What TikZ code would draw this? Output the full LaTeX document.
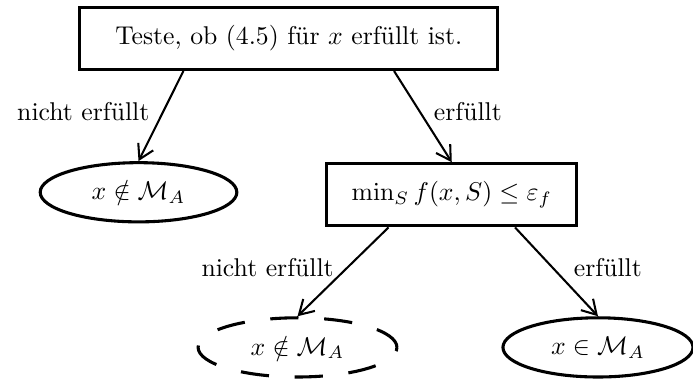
\documentclass[tikz,border=0pt]{standalone}
\usepackage{amsmath}
\usepackage{amssymb}
\usepackage{tikz}
\usetikzlibrary{
  arrows.meta,
  shapes.geometric,
  positioning,
  calc
}
\tikzset{
  testbox/.style={draw, very thick, minimum height=8.5mm, align=center},
  result/.style={draw, very thick, ellipse, minimum width=26.9mm, minimum height=8.1mm},
  open/.style={result, dash pattern=on 11pt off 10pt},
  branch/.style={-{Straight Barb[length=5.5pt, width=6.5pt]}, thick},
  tag/.style={inner sep=2pt}
}

\begin{document}
\begin{tikzpicture}
  \useasboundingbox (0,0) rectangle (9.48,5.21);
  \node[testbox, minimum width=57.2mm] (check) at (3.95,4.685) {Teste, ob (4.5) für $x$ erfüllt ist.};
  \node[result] (outA) at (1.895,2.58) {$x \notin \mathcal{M}_A$};
  \node[testbox, minimum width=34.2mm] (minf) at (6.18,2.545) {$\min_S f(x,S) \leq \varepsilon_f$};
  \node[open, minimum width=27.2mm] (maybeA) at (4.07,0.458) {$x \notin \mathcal{M}_A$};
  \node[result, minimum width=26mm] (inA) at (8.18,0.458) {$x \in \mathcal{M}_A$};

  \draw[branch] ($(check.south west)!0.25!(check.south east)$) -- node[tag, pos=0.45, left=3pt] {nicht erfüllt} (outA.north);
  \draw[branch] ($(check.south west)!0.75!(check.south east)$) -- node[tag, pos=0.45, right=3pt] {erfüllt} (minf.north);
  \draw[branch] ($(minf.south west)!0.25!(minf.south east)$) -- node[tag, pos=0.45, left=3pt] {nicht erfüllt} (maybeA.north);
  \draw[branch] ($(minf.south west)!0.75!(minf.south east)$) -- node[tag, pos=0.45, right=6pt] {erfüllt} (inA.north);
\end{tikzpicture}
\end{document}
